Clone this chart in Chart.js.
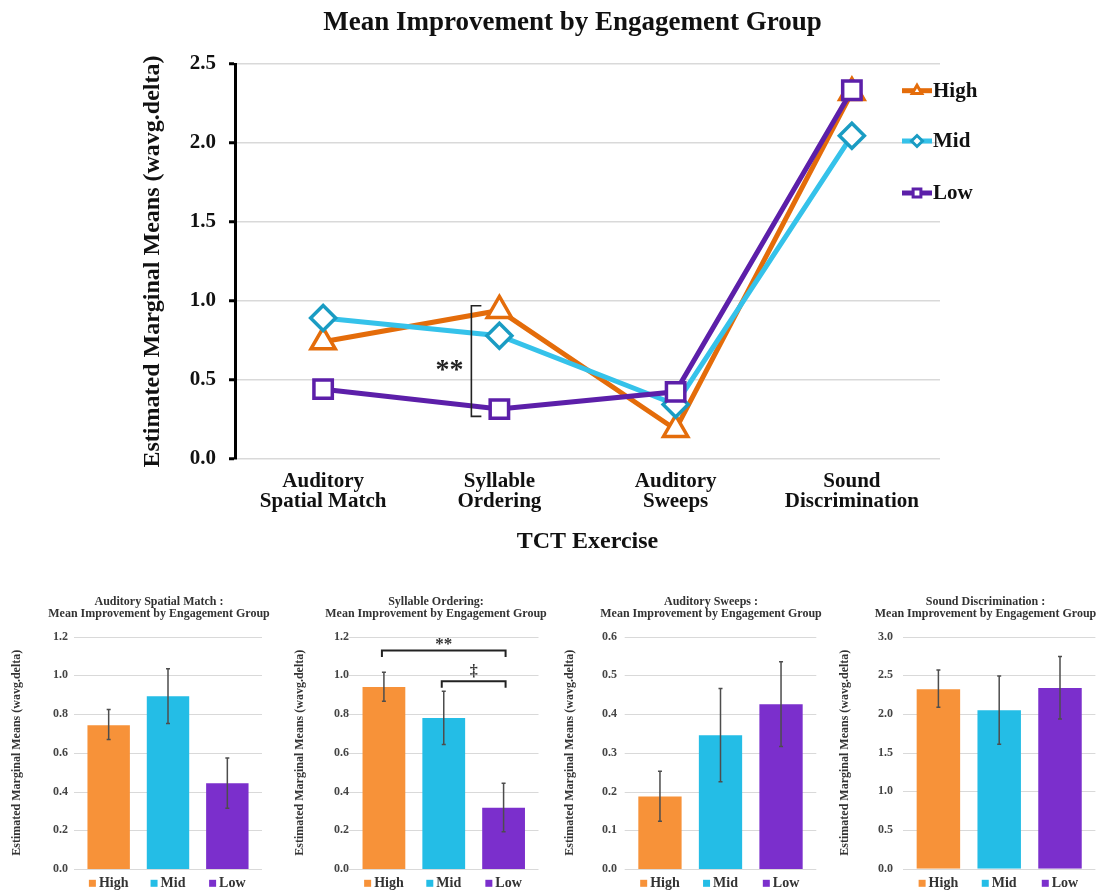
<!DOCTYPE html>
<html>
<head>
<meta charset="utf-8">
<script src="https://cdn.jsdelivr.net/npm/chart.js@4.4.1/dist/chart.umd.min.js"></script>
<style>
  html, body { margin: 0; padding: 0; background: #fff; }
  #wrap { position: relative; width: 1105px; height: 891px; overflow: hidden; background: #fff; }
  canvas { position: absolute; }
</style>
</head>
<body>
<div id="wrap">
  <canvas id="main" width="1105" height="570" style="left:0;top:0;width:1105px;height:570px"></canvas>
  <canvas id="p0"></canvas>
  <canvas id="p1"></canvas>
  <canvas id="p2"></canvas>
  <canvas id="p3"></canvas>
</div>
<script>
// ---- data ----
const exercises = [['Auditory', 'Spatial Match'], ['Syllable', 'Ordering'], ['Auditory', 'Sweeps'], ['Sound', 'Discrimination']];
const exerciseNames = ['Auditory Spatial Match :', 'Syllable Ordering:', 'Auditory Sweeps :', 'Sound Discrimination :'];
const groups = ['High', 'Mid', 'Low'];

// estimated marginal means per group, one value per exercise
const highMeans = [0.742, 0.940, 0.187, 2.320];
const midMeans  = [0.892, 0.780, 0.345, 2.046];
const lowMeans  = [0.442, 0.316, 0.425, 2.334];

// error bar bounds per group, one value per exercise
const highLower = [0.669, 0.866, 0.123, 2.085];
const highUpper = [0.823, 1.015, 0.252, 2.566];
const midLower  = [0.751, 0.643, 0.225, 1.607];
const midUpper  = [1.034, 0.917, 0.466, 2.490];
const lowLower  = [0.314, 0.192, 0.316, 1.934];
const lowUpper  = [0.573, 0.442, 0.535, 2.742];

// axis ranges
const mainYTicks = [0, 0.5, 1.0, 1.5, 2.0, 2.5];
const panelYMax  = [1.2, 1.2, 0.6, 3.0];
const panelYStep = [0.2, 0.2, 0.1, 0.5];

// ---- styling ----
const FONT = '"Liberation Serif", "Times New Roman", serif';
const lineColors   = ['#e46c0a', '#35c2ea', '#5c1fa9'];
const markerBorder = ['#e46c0a', '#1a9cc3', '#5c1fa9'];
const barColors    = ['#f79239', '#24bde6', '#7b2fcc'];
const TITLE = 'Mean Improvement by Engagement Group';
const Y_TITLE = 'Estimated Marginal Means (wavg.delta)';

function drawMarker(ctx, style, x, y, r) {
  ctx.beginPath();
  if (style === 'triangle') {
    ctx.moveTo(x, y - r);
    ctx.lineTo(x + r * 0.866, y + r * 0.5);
    ctx.lineTo(x - r * 0.866, y + r * 0.5);
    ctx.closePath();
  } else if (style === 'rectRot') {
    ctx.moveTo(x - r, y); ctx.lineTo(x, y - r); ctx.lineTo(x + r, y); ctx.lineTo(x, y + r);
    ctx.closePath();
  } else {
    const s = r * Math.SQRT1_2;
    ctx.rect(x - s, y - s, 2 * s, 2 * s);
  }
  ctx.fill();
  ctx.stroke();
}

// ---- main line chart ----
const mainYTitleX = 153, mainPlotLeft = 235, mainPlotRight = 940;
const mainLegendYs = [90.7, 141, 193];
const mainSig = { category: 1, from: 0.97, to: 0.27, label: '**', labelValue: 0.56 };

const mainDecor = {
  id: 'mainDecor',
  afterDraw(chart) {
    const ctx = chart.ctx;
    ctx.save();
    // title
    ctx.fillStyle = '#111';
    ctx.font = `bold 27px ${FONT}`;
    ctx.textAlign = 'center';
    ctx.textBaseline = 'middle';
    ctx.fillText(TITLE, 572.5, 23);

    // legend
    chart.data.datasets.forEach((ds, i) => {
      const y = mainLegendYs[i];
      ctx.strokeStyle = ds.borderColor;
      ctx.lineWidth = 5;
      ctx.beginPath(); ctx.moveTo(902, y); ctx.lineTo(932, y); ctx.stroke();
      ctx.fillStyle = '#fff';
      ctx.strokeStyle = ds.pointBorderColor;
      ctx.lineWidth = 3;
      drawMarker(ctx, ds.pointStyle, 917, y, 5.5);
      ctx.fillStyle = '#111';
      ctx.font = `bold 21px ${FONT}`;
      ctx.textAlign = 'left';
      ctx.textBaseline = 'middle';
      ctx.fillText(ds.label, 933, y + 1);
    });

    // significance bracket
    const xs = chart.scales.x, ys = chart.scales.y;
    const bx = xs.getPixelForValue(mainSig.category) - 28;
    const yt = ys.getPixelForValue(mainSig.from), yb = ys.getPixelForValue(mainSig.to);
    ctx.strokeStyle = '#222';
    ctx.lineWidth = 1.6;
    ctx.beginPath();
    ctx.moveTo(bx + 10, yt); ctx.lineTo(bx, yt); ctx.lineTo(bx, yb); ctx.lineTo(bx + 10, yb);
    ctx.stroke();
    ctx.fillStyle = '#222';
    ctx.font = `bold 28px ${FONT}`;
    ctx.textAlign = 'center';
    ctx.textBaseline = 'middle';
    ctx.fillText(mainSig.label, bx - 22, ys.getPixelForValue(mainSig.labelValue));
    ctx.restore();
  }
};

const seriesMeans = [highMeans, midMeans, lowMeans];
const pointStyles = ['triangle', 'rectRot', 'rect'];
const pointRadii = [14, 12.5, 13];

new Chart(document.getElementById('main'), {
  type: 'line',
  data: {
    labels: exercises,
    datasets: groups.map((g, i) => ({
      label: g,
      data: seriesMeans[i],
      borderColor: lineColors[i],
      borderWidth: 5,
      tension: 0,
      pointStyle: pointStyles[i],
      pointRadius: pointRadii[i],
      pointHoverRadius: pointRadii[i],
      pointBorderWidth: 3.5,
      pointBackgroundColor: '#fff',
      pointBorderColor: markerBorder[i],
      order: 3 - i,
      clip: false
    }))
  },
  options: {
    responsive: false,
    animation: false,
    devicePixelRatio: 1,
    layout: { padding: { left: mainYTitleX - 14.4, right: 1105 - mainPlotRight, top: 64, bottom: 0 } },
    plugins: { legend: { display: false }, tooltip: { enabled: false }, title: { display: false } },
    scales: {
      x: {
        offset: true,
        grid: { display: false, drawTicks: false },
        border: { display: false },
        ticks: {
          color: '#111', padding: 12.7, maxRotation: 0, autoSkip: false,
          font: { family: FONT, size: 21, weight: 'bold', lineHeight: 0.95 }
        },
        title: {
          display: true, text: 'TCT Exercise', color: '#111',
          font: { family: FONT, size: 24, weight: 'bold', lineHeight: 1.2 },
          padding: { top: 0, bottom: 13.9 }
        },
        afterFit: s => { s.height = 111; }
      },
      y: {
        min: mainYTicks[0],
        max: mainYTicks[mainYTicks.length - 1],
        ticks: {
          stepSize: 0.5, color: '#111', padding: 13,
          font: { family: FONT, size: 21, weight: 'bold' },
          callback: v => Number(v).toFixed(1)
        },
        grid: { color: '#d9d9d9', lineWidth: 1.5, drawTicks: true, tickLength: 6, tickColor: '#000', tickWidth: 3 },
        border: { display: true, color: '#000', width: 3 },
        title: {
          display: true, text: Y_TITLE, color: '#111',
          font: { family: FONT, size: 24, weight: 'bold', lineHeight: 1.2 },
          padding: 0
        },
        afterFit: s => { s.width = mainPlotLeft - (mainYTitleX - 14.4); }
      }
    }
  },
  plugins: [mainDecor]
});

// ---- per-exercise bar panels ----
const panelTop = 590, panelHeight = 301;
const panelGeo = [
  { left: 0,   width: 280, titleX: 159,   yTitleX: 17,  plotL: 79,    plotR: 257,    labelR: 68 },
  { left: 280, width: 280, titleX: 436,   yTitleX: 300, plotL: 354,   plotR: 533.5,  labelR: 349 },
  { left: 555, width: 280, titleX: 711,   yTitleX: 570, plotL: 629.7, plotR: 811.3,  labelR: 617 },
  { left: 830, width: 275, titleX: 985.5, yTitleX: 845, plotL: 908,   plotR: 1090.4, labelR: 893 }
];
const panelSig = [
  [],
  [ { from: 0, to: 2, value: 1.128, label: '**', size: 17, dy: -6 },
    { from: 1, to: 2, value: 0.969, label: '\u2021', size: 16, dy: -9.5 } ],
  [],
  []
];

function panelPlugin(idx, lower, upper) {
  const geo = panelGeo[idx];
  return {
    id: 'panelDecor',
    beforeDatasetsDraw(chart) {
      const ctx = chart.ctx, ys = chart.scales.y, area = chart.chartArea;
      ctx.save();
      ctx.strokeStyle = '#d9d9d9';
      ctx.lineWidth = 1;
      ys.ticks.forEach(t => {
        const py = Math.round(ys.getPixelForValue(t.value)) + 0.5;
        ctx.beginPath(); ctx.moveTo(area.left - 5, py); ctx.lineTo(area.right + 5, py); ctx.stroke();
      });
      ctx.restore();
    },
    afterDatasetsDraw(chart) {
      const ctx = chart.ctx, ys = chart.scales.y, xs = chart.scales.x;
      const meta = chart.getDatasetMeta(0);
      ctx.save();
      // error bars
      ctx.strokeStyle = '#4d4d4d';
      ctx.lineWidth = 1.5;
      meta.data.forEach((bar, i) => {
        const x = bar.x;
        const yl = ys.getPixelForValue(lower[i]), yu = ys.getPixelForValue(upper[i]);
        ctx.beginPath();
        ctx.moveTo(x, yl); ctx.lineTo(x, yu);
        ctx.moveTo(x - 2, yl); ctx.lineTo(x + 2, yl);
        ctx.moveTo(x - 2, yu); ctx.lineTo(x + 2, yu);
        ctx.stroke();
      });
      // significance brackets
      panelSig[idx].forEach(s => {
        const x0 = xs.getPixelForValue(s.from) - 2, x1 = xs.getPixelForValue(s.to) + 2;
        const y = ys.getPixelForValue(s.value);
        ctx.strokeStyle = '#222';
        ctx.lineWidth = 2;
        ctx.beginPath();
        ctx.moveTo(x0, y + 6.5); ctx.lineTo(x0, y); ctx.lineTo(x1, y); ctx.lineTo(x1, y + 6.5);
        ctx.stroke();
        ctx.fillStyle = '#333';
        ctx.font = `bold ${s.size}px ${FONT}`;
        ctx.textAlign = 'center';
        ctx.textBaseline = 'middle';
        ctx.fillText(s.label, (x0 + x1) / 2, y + s.dy);
      });
      ctx.restore();
    },
    afterDraw(chart) {
      const ctx = chart.ctx;
      const meta = chart.getDatasetMeta(0);
      ctx.save();
      // two-line panel title
      ctx.fillStyle = '#333';
      ctx.font = `bold 12px ${FONT}`;
      ctx.textAlign = 'center';
      ctx.textBaseline = 'middle';
      ctx.fillText(exerciseNames[idx], geo.titleX - geo.left, 11.5);
      ctx.fillText(TITLE, geo.titleX - geo.left, 23.5);
      // group key under each bar
      ctx.font = `bold 14px ${FONT}`;
      ctx.textAlign = 'left';
      groups.forEach((g, i) => {
        const cx = meta.data[i].x;
        const tw = ctx.measureText(g).width;
        const sx = cx - (7 + 3 + tw) / 2;
        const y = 293.3;
        ctx.fillStyle = barColors[i];
        ctx.fillRect(sx, y - 3.5, 7, 7);
        ctx.fillStyle = '#333';
        ctx.fillText(g, sx + 10, y + 0.5);
      });
      ctx.restore();
    }
  };
}

panelGeo.forEach((geo, idx) => {
  const cv = document.getElementById('p' + idx);
  cv.width = geo.width; cv.height = panelHeight;
  cv.style.left = geo.left + 'px';
  cv.style.top = panelTop + 'px';
  cv.style.width = geo.width + 'px';
  cv.style.height = panelHeight + 'px';
  const padL = geo.yTitleX - 7.2 - geo.left;
  const values = [highMeans[idx], midMeans[idx], lowMeans[idx]];
  const lower = [highLower[idx], midLower[idx], lowLower[idx]];
  const upper = [highUpper[idx], midUpper[idx], lowUpper[idx]];
  new Chart(cv, {
    type: 'bar',
    data: {
      labels: groups,
      datasets: [{
        data: values,
        backgroundColor: barColors,
        borderWidth: 0,
        categoryPercentage: 1,
        barPercentage: 0.715
      }]
    },
    options: {
      responsive: false,
      animation: false,
      devicePixelRatio: 1,
      layout: { padding: { left: padL, right: geo.left + geo.width - geo.plotR, top: 46.5, bottom: 22 } },
      plugins: { legend: { display: false }, tooltip: { enabled: false }, title: { display: false } },
      scales: {
        x: { display: false, offset: true },
        y: {
          min: 0, max: panelYMax[idx],
          ticks: {
            stepSize: panelYStep[idx], color: '#444', padding: geo.plotL - geo.labelR,
            font: { family: FONT, size: 12, weight: 'bold' },
            callback: v => Number(v).toFixed(1)
          },
          grid: { display: false, drawTicks: false },
          border: { display: false },
          title: {
            display: true, text: Y_TITLE, color: '#333',
            font: { family: FONT, size: 12, weight: 'bold', lineHeight: 1.2 },
            padding: 0
          },
          afterFit: s => { s.width = geo.plotL - geo.left - padL; }
        }
      }
    },
    plugins: [panelPlugin(idx, lower, upper)]
  });
});
</script>
</body>
</html>
